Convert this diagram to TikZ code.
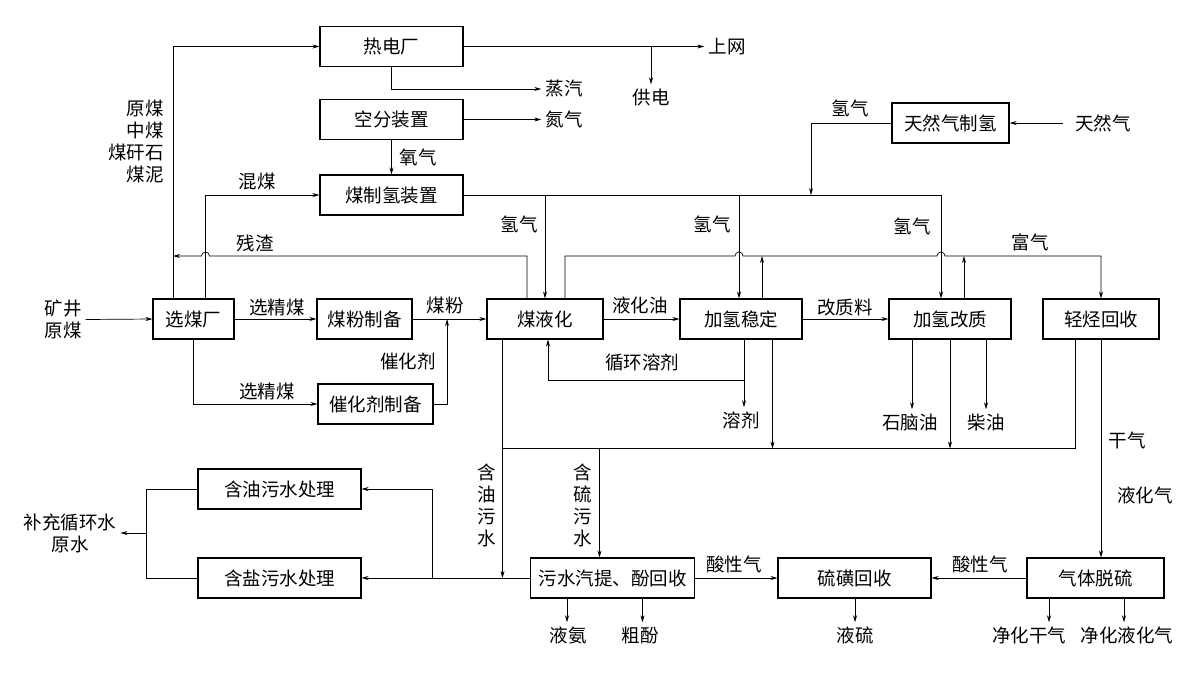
\documentclass[tikz,border=0pt]{standalone}
\usepackage{fontspec}
\newfontfamily\cjk{Noto Sans CJK SC}
\usetikzlibrary{arrows.meta,calc}
\newcommand\dgf{\cjk\fontsize{18.5}{22}\selectfont}
\begin{document}
\begin{tikzpicture}[x=1pt,y=-1pt,
  box/.style={draw,line width=1.1pt,inner sep=0pt,minimum height=40pt,font=\dgf},
  ln/.style={line width=0.7pt},
  ar/.style={line width=0.7pt,-{Stealth[length=7pt,width=4pt]}},
  lab/.style={inner sep=0pt,font=\dgf,align=center},
  tgt/.style={inner sep=4pt,font=\dgf,align=center},
]
\useasboundingbox (0,0) rectangle (1199,673);
% boxes
\node[box,minimum width=143pt] (rd) at (391.5,46.5) {热电厂};
\node[box,minimum width=143pt] (kf) at (391.5,119.5) {空分装置};
\node[box,minimum width=143pt] (mzq) at (391.5,195) {煤制氢装置};
\node[box,minimum width=117pt] (trq) at (950.5,123) {天然气制氢};
\node[box,minimum width=81pt] (xmc) at (193.5,319) {选煤厂};
\node[box,minimum width=95pt] (mfz) at (364.5,319) {煤粉制备};
\node[box,minimum width=115pt] (chj) at (375.5,404) {催化剂制备};
\node[box,minimum width=116pt] (myh) at (545,319) {煤液化};
\node[box,minimum width=122pt] (jqw) at (741,319) {加氢稳定};
\node[box,minimum width=122pt] (jqg) at (950,319) {加氢改质};
\node[box,minimum width=116pt] (qt) at (1101,319) {轻烃回收};
\node[box,minimum width=163pt] (hy) at (279.5,489) {含油污水处理};
\node[box,minimum width=163pt] (hs) at (279.5,578) {含盐污水处理};
\node[box,minimum width=164pt] (ws) at (612.5,578) {污水汽提、酚回收};
\node[box,minimum width=153pt] (lh) at (854.5,578) {硫磺回收};
\node[box,minimum width=137pt] (qtl) at (1095.5,578) {气体脱硫};
% labels
\node[tgt] (sw) at (727,46.5) {上网};
\node[tgt] (gd) at (651,97) {供电};
\node[tgt] (zq) at (564,89) {蒸汽};
\node[tgt] (dq) at (564,119.5) {氮气};
\node[lab] (yq) at (418,157) {氧气};
\node[lab,anchor=east,align=right] (ym) at (164,141) {原煤\\中煤\\煤矸石\\煤泥};
\node[lab] (hm) at (257,181) {混煤};
\node[lab] (cz) at (255,243) {残渣};
\node[lab] (qq1) at (519,224) {氢气};
\node[lab] (qq2) at (712,224) {氢气};
\node[lab] (qq3) at (912,226) {氢气};
\node[lab] (qq4) at (850,108) {氢气};
\node[tgt] (trqin) at (1103,123) {天然气};
\node[lab] (fq) at (1030,242) {富气};
\node[tgt] (kj) at (63,319.5) {矿井\\原煤};
\node[lab] (xj1) at (277,307) {选精煤};
\node[lab] (mf) at (445,305) {煤粉};
\node[lab] (chjl) at (408,361) {催化剂};
\node[lab] (xj2) at (267,391) {选精煤};
\node[lab] (yhy) at (640,305) {液化油};
\node[lab] (gzl) at (845,307) {改质料};
\node[lab] (xh) at (642,362) {循环溶剂};
\node[tgt] (rj) at (741,420) {溶剂};
\node[tgt] (snl) at (910,422) {石脑油};
\node[tgt] (cy) at (986,422) {柴油};
\node[lab] (gq) at (1127,440) {干气};
\node[lab] (yhq) at (1145,495) {液化气};
\node[lab] (hyws) at (487,505) {含\\油\\污\\水};
\node[lab] (hlws) at (583,505) {含\\硫\\污\\水};
\node[tgt] (bc) at (70,533) {补充循环水\\原水};
\node[lab] (sx1) at (734,564) {酸性气};
\node[lab] (sx2) at (980,564) {酸性气};
\node[tgt] (ya) at (568,635) {液氨};
\node[tgt] (cf) at (640,635) {粗酚};
\node[tgt] (ls) at (855,635) {液硫};
\node[tgt] (jhg) at (1029,635) {净化干气};
\node[tgt] (jhy) at (1127,635) {净化液化气};
% helper coordinates
\coordinate (c117) at (117,0);
\coordinate (c146) at (146,0);
\coordinate (c173) at (173,0);
\coordinate (c205) at (205.5,0);
\coordinate (c432) at (432.5,0);
\coordinate (c447) at (447,0);
\coordinate (c502) at (502.5,0);
\coordinate (c527) at (527,0);
\coordinate (c548) at (548,0);
\coordinate (c565) at (565,0);
\coordinate (c600) at (599.5,0);
\coordinate (c567) at (567,0);
\coordinate (c642) at (642.5,0);
\coordinate (c739) at (739,0);
\coordinate (c744) at (744,0);
\coordinate (c762) at (762,0);
\coordinate (c772) at (772.5,0);
\coordinate (c811) at (811,0);
\coordinate (c912) at (912,0);
\coordinate (c941) at (941,0);
\coordinate (c964) at (964,0);
\coordinate (c986) at (986,0);
\coordinate (c1049) at (1049,0);
\coordinate (c1075) at (1075.5,0);
\coordinate (c1124) at (1124,0);
\coordinate (yfq) at (0,256);
\coordinate (y380) at (0,380);
\coordinate (y448) at (0,448.5);
% top section
\draw[ar] (rd.east) -- (sw.west);
\draw[ar] (rd.east -| gd.north) -- (gd.north);
\draw[ar] (rd.south) |- (zq.west);
\draw[ar] (kf.east) -- (dq.west);
\draw[ar] (kf.south) -- (mzq.north);
\draw[ar] (xmc.north -| c173) |- (rd.west);
\draw[ar] (xmc.north -| c205) |- (mzq.west);
\draw[ar] (myh.north -| c527) -- (c527 |- yfq) -- ($(c205 |- yfq)+(4,0)$) arc[start angle=0,end angle=180,radius=4pt] -- (c173 |- yfq);
% hydrogen network
\draw[ln] (mzq.east) -- (c941 |- mzq.east);
\draw[ar] (c941 |- mzq.east) -- (jqg.north -| c941);
\draw[ar] (myh.north |- mzq.east) -- (myh.north);
\draw[ar] (c739 |- mzq.east) -- (jqw.north -| c739);
\draw[ar] (trq.west) -| (c811 |- mzq.east);
\draw[ar,shorten <=8pt] (trqin.west) -- (trq.east);
% rich gas
\draw[ar] (myh.north -| c565) |- ($(c739 |- yfq)+(-4,0)$) arc[start angle=180,end angle=0,radius=4pt] -- ($(c941 |- yfq)+(-4,0)$) arc[start angle=180,end angle=0,radius=4pt] -| (qt.north);
\draw[ar] (jqw.north -| c762) -- (c762 |- yfq);
\draw[ar] (jqg.north -| c964) -- (c964 |- yfq);
% main row
\draw[ar] (kj.east) -- (xmc.west);
\draw[ar] (xmc.east) -- (mfz.west);
\draw[ar] (mfz.east) -- (myh.west);
\draw[ar] (chj.east) -| (c447 |- mfz.east);
\draw[ar] (xmc.south) |- (chj.west);
\draw[ar] (myh.east) -- (jqw.west);
\draw[ar] (jqw.east) -- (jqg.west);
% solvent
\draw[ar] (jqw.south -| c744) -- (c744 |- rj.north);
\draw[ar] (c744 |- y380) -- (c548 |- y380) -- (myh.south -| c548);
\draw[ar] (jqw.south -| c772) -- (c772 |- y448);
% upgrading products
\draw[ar] (jqg.south -| c912) -- (c912 |- snl.north);
\draw[ar] (jqg.south -| c986) -- (c986 |- cy.north);
\draw[ar] (jqg.south) -- (jqg.south |- y448);
% collection line
\draw[ln] (qt.south -| c1075) |- (c502 |- y448);
\draw[ar] (myh.south -| c502) -- (c502 |- ws.west);
\draw[ar] (c600 |- y448) -- (ws.north -| c600);
% waste water
\draw[ar] (ws.west) -- (hs.east);
\draw[ar] (c432 |- ws.west) |- (hy.east);
\draw[ln] (hy.west) -| (c146 |- hs.west) -- (hs.west);
\draw[ar] (c146 |- bc.east) -- (bc.east);
% gas
\draw[ar] (qt.south) -- (qt.south |- qtl.north);
\draw[ar] (ws.east) -- (lh.west);
\draw[ar] (qtl.west) -- (lh.east);
% bottom products
\draw[ar] (ws.south -| c567) -- (c567 |- ya.north);
\draw[ar] (ws.south -| c642) -- (c642 |- cf.north);
\draw[ar] (lh.south -| ls.north) -- (ls.north);
\draw[ar] (qtl.south -| c1049) -- (c1049 |- jhg.north);
\draw[ar] (qtl.south -| c1124) -- (c1124 |- jhy.north);
\end{tikzpicture}
\end{document}
